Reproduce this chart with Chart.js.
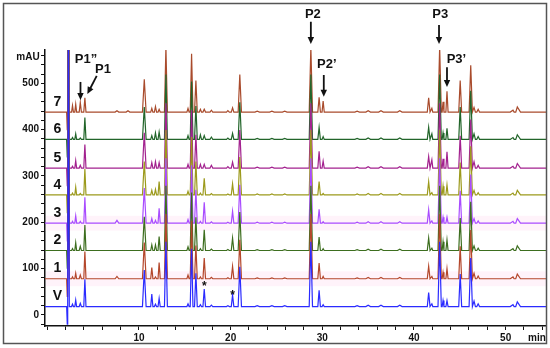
<!DOCTYPE html>
<html>
<head>
<meta charset="utf-8">
<script src="https://cdn.jsdelivr.net/npm/chart.js@4.4.0/dist/chart.umd.min.js"></script>
<style>
html, body { margin: 0; padding: 0; background: #fff; }
#wrap { width: 550px; height: 348px; position: relative; }
</style>
</head>
<body>
<div id="wrap"><canvas id="chrom"></canvas></div>
<script>
// chromatogram data: shared retention times (min), peak half widths, heights per trace (mAU above baseline)
const traceNames = ["V", "1", "2", "3", "4", "5", "6", "7"];
const traceColors = ["#2b2bff", "#b4472b", "#3d6e1f", "#a94cff", "#9c9a1c", "#a3228f", "#22652a", "#a94b2c"];
const baselines = [18, 78, 139, 198, 259, 317, 379, 438];
const shadedTraces = [1, 3];

const peakTimes = [2.18, 2.3, 2.75, 3.1, 3.6, 4.1, 7.6, 8.8, 10.58, 11.4, 11.8, 12.2, 12.94, 15.35, 15.74, 16.21, 16.7, 17.12, 17.9, 19.7, 20.21, 21.0,
  22.9, 24.5, 25.9, 28.75, 29.65, 30.09, 33.8, 35.0, 36.4, 38.45, 41.6, 41.95, 42.8, 43.17, 43.6, 45.04, 46.19, 46.55, 47.0, 50.8, 51.27];
const peakHalfWidths = [0.07, 0.1, 0.1, 0.1, 0.12, 0.12, 0.2, 0.2, 0.2, 0.12, 0.12, 0.12, 0.16, 0.12, 0.15, 0.15, 0.12, 0.14, 0.15, 0.15, 0.14, 0.18,
  0.25, 0.25, 0.25, 0.18, 0.14, 0.12, 0.25, 0.25, 0.25, 0.25, 0.15, 0.1, 0.18, 0.1, 0.12, 0.16, 0.18, 0.15, 0.15, 0.3, 0.35];

const heightsV = [-38, 650, 5, 14, 7, 59, 0, 0, 79, 27, 5, 18, 140, 6, 125, 72, 4, 38, 3, 2, 25, 86, 2, 2, 2, 140, 35, 4, 2, 3, 3, 3, 30, 6, 140, 13, 13, 70, 105, 12, 6, 4, 10];
const heights1 = [-38, 650, 4, 12, 8, 59, 5, 0, 78, 24, 4, 35, 140, 8, 125, 72, 4, 45, 3, 2, 27, 84, 2, 2, 2, 140, 34, 5, 2, 3, 3, 3, 27, 5, 140, 14, 22, 70, 105, 12, 6, 4, 10];
const heights2 = [-38, 650, 4, 17, 9, 55, 0, 0, 73, 12, 12, 30, 140, 8, 125, 72, 4, 45, 3, 2, 27, 83, 2, 2, 2, 140, 29, 4, 2, 3, 3, 3, 27, 5, 140, 19, 23, 70, 105, 10, 5, 4, 10];
const heights3 = [-38, 650, 4, 16, 4, 56, 6, 0, 76, 10, 6, 32, 140, 8, 125, 72, 4, 45, 3, 2, 26, 83, 2, 2, 2, 140, 30, 3, 2, 3, 3, 3, 29, 5, 140, 13, 13, 70, 105, 10, 5, 4, 10];
const heights4 = [-38, 650, 4, 17, 3, 56, 0, 0, 72, 10, 12, 29, 140, 8, 125, 72, 4, 36, 3, 2, 24, 82, 2, 2, 2, 140, 29, 3, 2, 3, 3, 3, 29, 5, 140, 19, 22, 70, 105, 10, 5, 4, 10];
const heights5 = [-38, 650, 4, 16, 6, 51, 0, 0, 76, 12, 14, 12, 140, 8, 125, 72, 8, 8, 6, 3, 13, 82, 2, 2, 2, 140, 36, 15, 2, 3, 3, 3, 25, 18, 140, 20, 35, 70, 105, 14, 6, 4, 10];
const heights6 = [-38, 650, 4, 12, 3, 47, 0, 0, 70, 8, 14, 16, 140, 8, 125, 72, 10, 8, 5, 3, 13, 80, 2, 2, 2, 140, 26, 6, 2, 3, 3, 3, 26, 12, 140, 14, 24, 70, 105, 12, 6, 4, 10];
const heights7 = [-38, 650, 14, 17, 21, 31, 3, 3, 71, 8, 12, 6, 140, 8, 126, 68, 6, 6, 4, 3, 9, 81, 2, 2, 2, 140, 32, 24, 2, 3, 3, 3, 31, 8, 140, 22, 45, 68, 101, 10, 6, 4, 11];
const traceHeights = [heightsV, heights1, heights2, heights3, heights4, heights5, heights6, heights7];

const xMin = -0.25, xMax = 54.4;
const yMin = -24, yMax = 572;
const xLabelTicks = [10, 20, 30, 40, 50];
const yLabelTicks = [0, 100, 200, 300, 400, 500];

// peak labels in data units [text, time, mAU]
const peakLabels = [["P1\u201D", 4.22, 551], ["P1", 6.08, 529], ["P2", 28.97, 648], ["P2\u2019", 30.49, 540], ["P3", 42.86, 648], ["P3\u2019", 44.63, 551]];
const peakArrows = [[3.62, 503, 3.62, 464], [5.39, 516, 4.37, 477], [28.75, 633, 28.75, 585], [30.16, 518, 30.16, 471], [42.73, 626, 42.73, 585], [43.6, 535, 43.6, 492]];
const starMarks = [[17.12, 67], [20.21, 47]];

function tracePoints(i) {
  const base = baselines[i];
  const pts = [{ x: xMin, y: base }, { x: xMax, y: base }];
  traceHeights[i].forEach((h, k) => {
    if (!h) return;
    const t = peakTimes[k], w = peakHalfWidths[k];
    pts.push({ x: t - w, y: base }, { x: t, y: base + h }, { x: t + w, y: base });
  });
  return pts.sort((a, b) => a.x - b.x);
}

const FONT = '"Liberation Sans", Arial, sans-serif';

function arrow(ctx, x1, y1, x2, y2) {
  const a = Math.atan2(y2 - y1, x2 - x1), L = 7, W = 3.2;
  ctx.beginPath();
  ctx.moveTo(x1, y1);
  ctx.lineTo(x2 - L * 0.8 * Math.cos(a), y2 - L * 0.8 * Math.sin(a));
  ctx.stroke();
  ctx.beginPath();
  ctx.moveTo(x2, y2);
  ctx.lineTo(x2 - L * Math.cos(a) + W * Math.sin(a), y2 - L * Math.sin(a) - W * Math.cos(a));
  ctx.lineTo(x2 - L * Math.cos(a) - W * Math.sin(a), y2 - L * Math.sin(a) + W * Math.cos(a));
  ctx.closePath();
  ctx.fill();
}

const overlay = {
  id: "overlay",
  beforeDatasetsDraw(chart) {
    const { ctx, chartArea, scales: { y } } = chart;
    ctx.save();
    ctx.fillStyle = "rgba(255, 180, 225, 0.16)";
    shadedTraces.forEach(i => {
      const top = y.getPixelForValue(baselines[i] + 16);
      const bot = y.getPixelForValue(baselines[i] - 16);
      ctx.fillRect(chartArea.left + 1, top, chartArea.right - chartArea.left - 1, bot - top);
    });
    ctx.restore();
  },
  afterDatasetsDraw(chart) {
    const { ctx, scales: { x, y } } = chart;
    ctx.save();
    ctx.fillStyle = "#111";
    ctx.strokeStyle = "#111";
    ctx.textAlign = "center";
    ctx.textBaseline = "middle";
    ctx.font = "bold 14px " + FONT;
    traceNames.forEach((n, i) => ctx.fillText(n, x.getPixelForValue(1.1), y.getPixelForValue(baselines[i] + 22)));
    ctx.font = "bold 13px " + FONT;
    peakLabels.forEach(([s, t, v]) => ctx.fillText(s, x.getPixelForValue(t), y.getPixelForValue(v)));
    ctx.lineWidth = 1.8;
    peakArrows.forEach(([t1, v1, t2, v2]) => arrow(ctx, x.getPixelForValue(t1), y.getPixelForValue(v1), x.getPixelForValue(t2), y.getPixelForValue(v2)));
    ctx.font = "bold 12px " + FONT;
    starMarks.forEach(([t, v]) => ctx.fillText("*", x.getPixelForValue(t), y.getPixelForValue(v) + 3));
    ctx.font = "bold 10px " + FONT;
    ctx.fillText("mAU", 28, 57);
    ctx.fillText("min", 537, 338);
    ctx.restore();
  },
  afterDraw(chart) {
    const ctx = chart.ctx;
    ctx.save();
    ctx.strokeStyle = "#555";
    ctx.lineWidth = 1.5;
    ctx.strokeRect(3.5, 3.5, 543, 340);
    ctx.restore();
  }
};

new Chart(document.getElementById("chrom"), {
  type: "line",
  data: {
    datasets: traceNames.map((n, i) => ({
      label: n,
      data: tracePoints(i),
      borderColor: traceColors[i],
      borderWidth: 1.2,
      pointRadius: 0,
      tension: 0,
      fill: false,
    })),
  },
  options: {
    responsive: true,
    maintainAspectRatio: false,
    animation: false,
    layout: { padding: { top: 50, right: 4, bottom: 0, left: 0 } },
    plugins: { legend: { display: false }, tooltip: { enabled: false } },
    scales: {
      x: {
        type: "linear",
        min: xMin,
        max: xMax,
        afterFit: s => { s.height = 22; },
        grid: { drawOnChartArea: false, drawTicks: true, tickLength: 4, color: "#111" },
        border: { display: true, color: "#111", width: 1.5 },
        ticks: {
          stepSize: 2,
          includeBounds: false,
          autoSkip: false,
          maxRotation: 0,
          padding: 2,
          color: "#111",
          font: { family: FONT, size: 10, weight: "bold" },
          callback: v => xLabelTicks.includes(v) ? v : "",
        },
      },
      y: {
        min: yMin,
        max: yMax,
        afterFit: s => { s.width = 45; },
        grid: { drawOnChartArea: false, drawTicks: true, tickLength: 4, color: "#111" },
        border: { display: true, color: "#111", width: 1.5 },
        ticks: {
          stepSize: 20,
          includeBounds: false,
          autoSkip: false,
          padding: 2,
          color: "#111",
          font: { family: FONT, size: 10, weight: "bold" },
          callback: v => yLabelTicks.includes(v) ? v : "",
        },
      },
    },
  },
  plugins: [overlay],
});
</script>
</body>
</html>
